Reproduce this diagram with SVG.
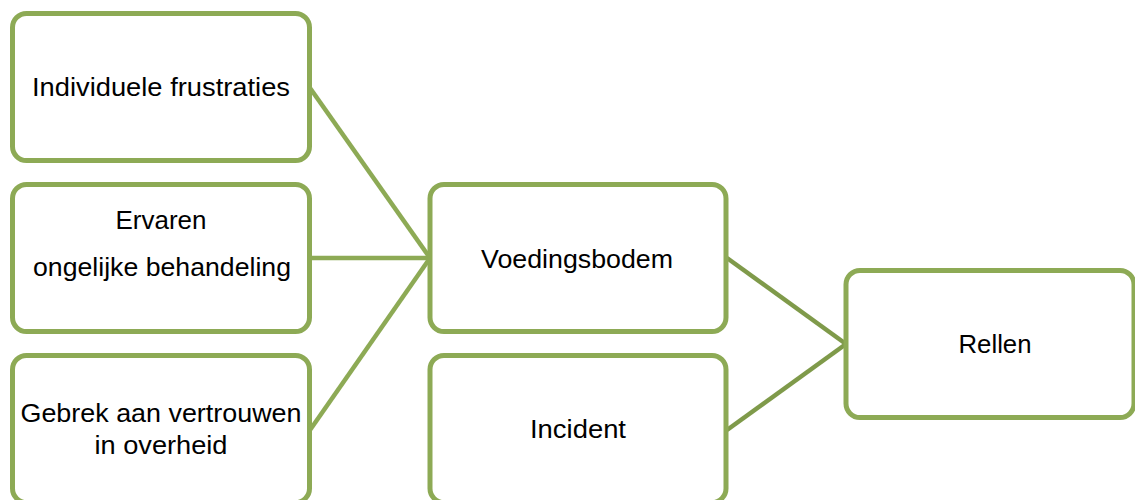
<svg xmlns="http://www.w3.org/2000/svg" width="1135" height="500" viewBox="0 0 1135 500">
<style>
.box{fill:#ffffff;stroke:#8DAA55;stroke-width:5}
.con{stroke:#8DAA55;stroke-width:4.5;fill:none}
.con2{stroke:#7F9A4A;stroke-width:4.5;fill:none}
text{font-family:"Liberation Sans","Open Sans",sans-serif;font-size:26px;fill:#000;text-anchor:middle}
</style>
<rect width="1135" height="500" fill="#ffffff"/>
<g id="connectors">
<line class="con" x1="310" y1="88" x2="430" y2="258"/>
<line class="con" x1="310" y1="258" x2="430" y2="258"/>
<line class="con" x1="310" y1="430" x2="430" y2="258"/>
<line class="con2" x1="727" y1="258" x2="846" y2="344"/>
<line class="con2" x1="727" y1="430" x2="846" y2="344"/>
</g>
<g id="n1">
<rect class="box" x="12.5" y="13.5" width="297" height="147" rx="14"/>
<text x="161" y="96" textLength="258" lengthAdjust="spacingAndGlyphs">Individuele frustraties</text>
</g>
<g id="n2">
<rect class="box" x="12.5" y="184.5" width="297" height="147" rx="14"/>
<text x="161" y="229" textLength="91" lengthAdjust="spacingAndGlyphs">Ervaren</text>
<text x="162" y="276" textLength="258" lengthAdjust="spacingAndGlyphs">ongelijke behandeling</text>
</g>
<g id="n3">
<rect class="box" x="12.5" y="355.5" width="297" height="147" rx="14"/>
<text x="161" y="422" textLength="281" lengthAdjust="spacingAndGlyphs">Gebrek aan vertrouwen</text>
<text x="161" y="454" textLength="133" lengthAdjust="spacingAndGlyphs">in overheid</text>
</g>
<g id="n4">
<rect class="box" x="430" y="184.5" width="296" height="147" rx="14"/>
<text x="577" y="268" textLength="192" lengthAdjust="spacingAndGlyphs">Voedingsbodem</text>
</g>
<g id="n5">
<rect class="box" x="430" y="355.5" width="296" height="147" rx="14"/>
<text x="578" y="438" textLength="96" lengthAdjust="spacingAndGlyphs">Incident</text>
</g>
<g id="n6">
<rect class="box" x="846" y="270.5" width="288" height="147" rx="14"/>
<text x="995" y="353" textLength="73" lengthAdjust="spacingAndGlyphs">Rellen</text>
</g>
</svg>
